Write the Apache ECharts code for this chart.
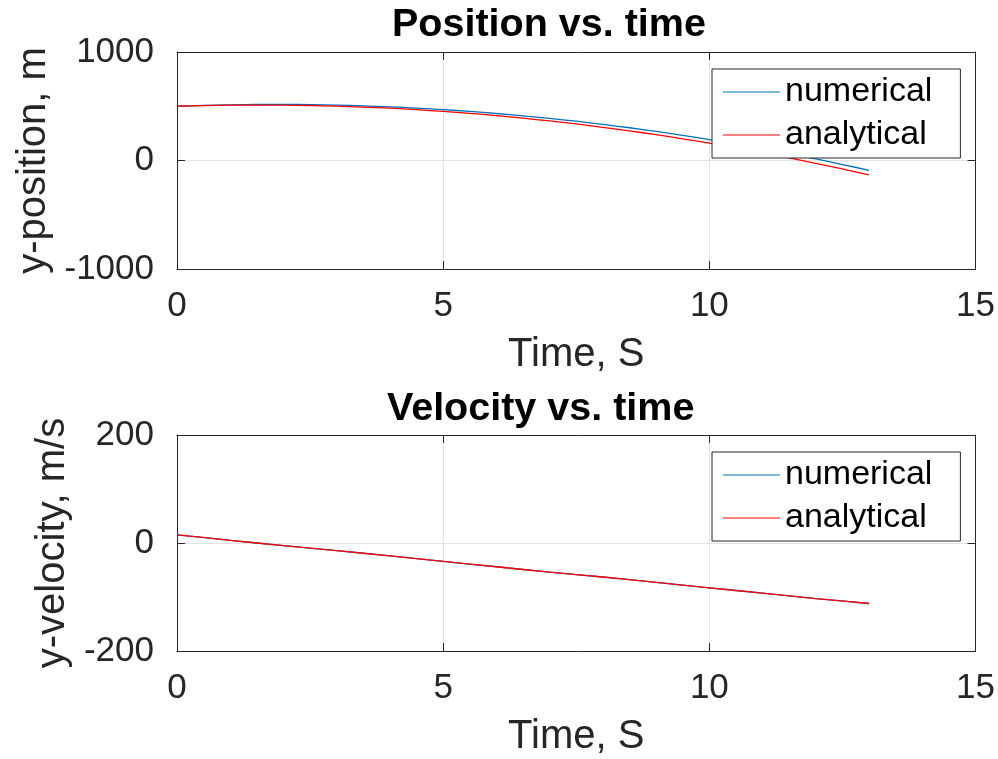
<!DOCTYPE html>
<html>
<head>
<meta charset="utf-8">
<script src="https://cdn.jsdelivr.net/npm/echarts@6/dist/echarts.min.js"></script>
<style>
  html, body { margin: 0; padding: 0; background: #fff; }
  #main { width: 998px; height: 759px; }
</style>
</head>
<body>
<div id="main"></div>
<script>
// values
var posTime = [0, 0.5, 1, 1.5, 2, 2.5, 3, 3.5, 4, 4.5, 5, 5.5, 6, 6.5, 7, 7.5, 8, 8.5, 9, 9.5, 10, 10.5, 11, 11.5, 12, 12.5, 13];
var posNumerical = [500, 508, 513, 516, 517, 515, 511, 504, 495, 483, 469, 452, 433, 412, 388, 362, 333, 302, 268, 232, 193, 154, 109, 63, 14, -37, -90];
var posAnalytical = [500, 506, 510, 511, 510, 507, 501, 492, 482, 468, 452, 434, 414, 390, 365, 337, 306, 273, 238, 200, 160, 119, 72, 24, -26, -78, -133];

var velTime = [0, 1, 2, 3, 4, 5, 6, 7, 8, 9, 10, 11, 12, 13];
var velNumerical = [15, 5, -5, -14, -24, -34, -44, -54, -63, -73, -83, -93, -103, -112];
var velAnalytical = [15, 5, -5, -14, -24, -34, -44, -54, -63, -73, -83, -93, -103, -112];

var seriesNames = ['numerical', 'analytical'];
var colors = ['#0072BD', '#FF0000'];

var FONT = 'Liberation Sans, Arial, Helvetica, sans-serif';
var AX = '#262626';

function pairs(xs, ys) {
  return xs.map(function (x, i) { return [x, ys[i]]; });
}

function plain(v) { return String(v); }

// main axes (labels + grid) and a twin on the opposite side for the box ticks
function xAxes(gi) {
  var base = { gridIndex: gi, type: 'value', min: 0, max: 15, interval: 5 };
  return [
    Object.assign({}, base, {
      position: 'bottom',
      name: 'Time, S', nameLocation: 'middle', nameGap: 66,
      nameTextStyle: { fontFamily: FONT, fontSize: 40, color: AX },
      axisLine: { onZero: false, lineStyle: { color: AX, width: 1 } },
      axisTick: { inside: true, length: 8, lineStyle: { color: AX } },
      axisLabel: { fontFamily: FONT, fontSize: 35, color: AX, margin: 20, formatter: plain },
      splitLine: { show: true, lineStyle: { color: '#e3e3e3', width: 1 } }
    }),
    Object.assign({}, base, {
      position: 'top',
      axisLine: { onZero: false, lineStyle: { color: AX, width: 1 } },
      axisTick: { inside: true, length: 8, lineStyle: { color: AX } },
      axisLabel: { show: false },
      splitLine: { show: false }
    })
  ];
}

function yAxes(gi, min, max, interval, name, gap) {
  var base = { gridIndex: gi, type: 'value', min: min, max: max, interval: interval };
  return [
    Object.assign({}, base, {
      position: 'left',
      name: name, nameLocation: 'middle', nameGap: gap, nameRotate: 90,
      nameTextStyle: { fontFamily: FONT, fontSize: 40, color: AX },
      axisLine: { onZero: false, lineStyle: { color: AX, width: 1 } },
      axisTick: { inside: true, length: 8, lineStyle: { color: AX } },
      axisLabel: { fontFamily: FONT, fontSize: 35, color: AX, margin: 23, formatter: plain },
      splitLine: { show: true, lineStyle: { color: '#e3e3e3', width: 1 } }
    }),
    Object.assign({}, base, {
      position: 'right',
      axisLine: { onZero: false, lineStyle: { color: AX, width: 1 } },
      axisTick: { inside: true, length: 8, lineStyle: { color: AX } },
      axisLabel: { show: false },
      splitLine: { show: false }
    })
  ];
}

function legendAt(top) {
  return {
    orient: 'vertical', left: 712, top: top,
    data: seriesNames,
    icon: 'rect', itemWidth: 57, itemHeight: 1.2, itemGap: 9,
    padding: [6, 28, 6, 11],
    borderColor: AX, borderWidth: 1,
    backgroundColor: '#fff',
    selectedMode: false,
    textStyle: { fontFamily: FONT, fontSize: 34, color: '#000' }
  };
}

function lineSeries(name, idx, xi, yi, data, z) {
  return {
    name: name, type: 'line', xAxisIndex: xi, yAxisIndex: yi,
    data: data, symbol: 'none', smooth: 0.2, animation: false, z: z,
    color: colors[idx],
    lineStyle: { color: colors[idx], width: 1.3 }
  };
}

var myChart = echarts.init(document.getElementById('main'), null, { renderer: 'canvas' });
myChart.setOption({
  animation: false,
  backgroundColor: '#fff',
  title: [
    { text: 'Position vs. time', left: 387, top: 0,
      textStyle: { fontFamily: FONT, fontSize: 39.5, fontWeight: 'bold', color: '#000' } },
    { text: 'Velocity vs. time', left: 382, top: 384,
      textStyle: { fontFamily: FONT, fontSize: 39.5, fontWeight: 'bold', color: '#000' } }
  ],
  grid: [
    { left: 177, top: 52, width: 800, height: 217 },
    { left: 177, top: 435, width: 800, height: 216 }
  ],
  legend: [legendAt(69), legendAt(452)],
  xAxis: xAxes(0).concat(xAxes(1)),
  yAxis: yAxes(0, -1000, 1000, 1000, 'y-position, m', 118)
    .concat(yAxes(1, -200, 200, 200, 'y-velocity, m/s', 97)),
  series: [
    lineSeries('numerical', 0, 0, 0, pairs(posTime, posNumerical), 2),
    lineSeries('analytical', 1, 0, 0, pairs(posTime, posAnalytical), 3),
    lineSeries('numerical', 0, 2, 2, pairs(velTime, velNumerical), 2),
    lineSeries('analytical', 1, 2, 2, pairs(velTime, velAnalytical), 3)
  ]
});
</script>
</body>
</html>
